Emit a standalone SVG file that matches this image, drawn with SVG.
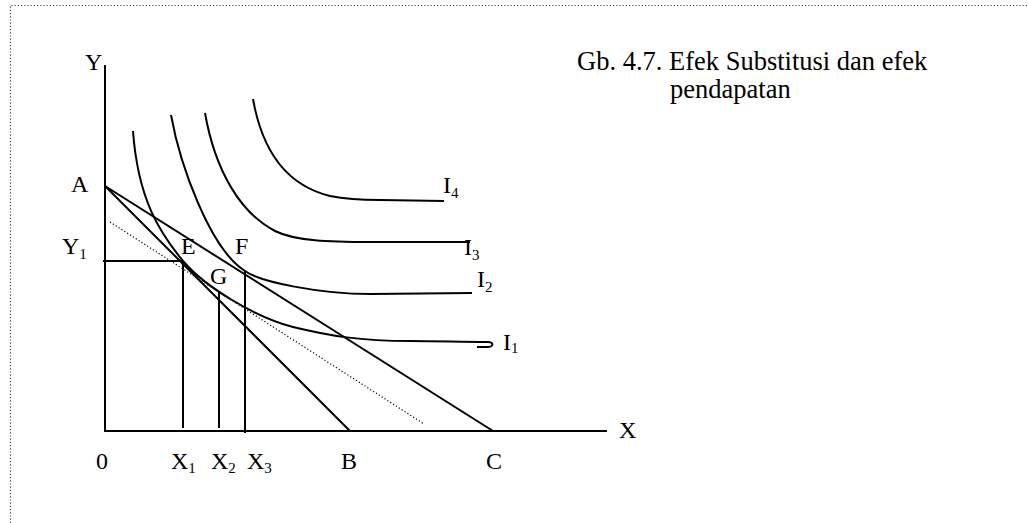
<svg xmlns="http://www.w3.org/2000/svg" width="1028" height="523" viewBox="0 0 1028 523">
<style>
.ln{fill:none;stroke:#000;stroke-width:2;stroke-linecap:butt}
.dot{fill:none;stroke:#000;stroke-width:1.2;stroke-dasharray:1.2 2.2}
.bd{fill:none;stroke:#444;stroke-width:1.2;stroke-dasharray:1.2 2}
text{font-family:"Liberation Serif","Times New Roman",serif;fill:#000}
.lb{font-size:24px}
.sb{font-size:15px}
.tt{font-size:26.5px}
</style>
<rect width="1028" height="523" fill="#fff"/>
<g id="border">
<path class="bd" d="M10.5,523 L10.5,5.5 L1028,5.5"/>
</g>
<g id="axes">
<path class="ln" d="M105,65 L105,432"/>
<path class="ln" d="M104,431 L607,431"/>
</g>
<g id="budget-lines">
<path class="ln" d="M105,186 L350,431"/>
<path class="ln" d="M105,186 L493,431"/>
<path class="dot" d="M110,222 L424,424"/>
</g>
<g id="guides">
<path class="ln" d="M103,261 L183,261"/>
<path class="ln" d="M183,261 L183,428"/>
<path class="ln" d="M219,291 L219,428"/>
<path class="ln" d="M245,271 L245,433"/>
</g>
<g id="curves">
<path id="I1" class="ln" d="M133,131 C138,200 160,233 183,261 C205,287 255,317 293,327 C330,336 360,341 410,341 C440,341 460,342 488,342 C494,342 494,347 487,347 L477,347"/>
<path id="I2" class="ln" d="M171,115 C180,165 210,249 245,271 C260,282 320,294 370,294 L472,293"/>
<path id="I3" class="ln" d="M205,113 C215,170 240,213 275,231 C295,241 330,242 370,242 L470,242"/>
<path id="I4" class="ln" d="M253,99 C262,150 285,185 330,196 C345,199 360,200 380,200 L444,201"/>
</g>
<g id="labels">
<text class="tt" x="577" y="70">Gb. 4.7. Efek Substitusi dan efek</text>
<text class="tt" x="670" y="98">pendapatan</text>
<text class="lb" x="85" y="70">Y</text>
<text class="lb" x="71" y="192">A</text>
<text class="lb" x="62" y="254">Y<tspan class="sb" dy="5">1</tspan></text>
<text class="lb" x="181" y="254">E</text>
<text class="lb" x="235" y="254">F</text>
<text class="lb" x="210" y="284">G</text>
<text class="lb" x="443" y="193">I<tspan class="sb" dy="5">4</tspan></text>
<text class="lb" x="464" y="255">I<tspan class="sb" dy="5">3</tspan></text>
<text class="lb" x="477" y="287">I<tspan class="sb" dy="5">2</tspan></text>
<text class="lb" x="503" y="350">I<tspan class="sb" dy="3">1</tspan></text>
<text class="lb" x="96" y="469">0</text>
<text class="lb" x="171" y="469">X<tspan class="sb" dy="4">1</tspan></text>
<text class="lb" x="211" y="469">X<tspan class="sb" dy="4">2</tspan></text>
<text class="lb" x="247" y="469">X<tspan class="sb" dy="4">3</tspan></text>
<text class="lb" x="341" y="469">B</text>
<text class="lb" x="486" y="469">C</text>
<text class="lb" x="619" y="438">X</text>
</g>
</svg>
